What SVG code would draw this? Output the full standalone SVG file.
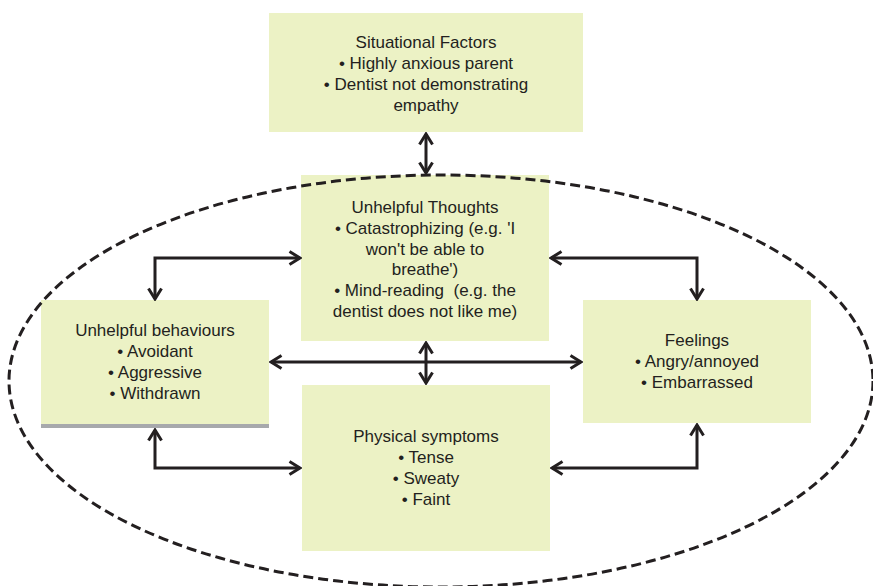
<svg xmlns="http://www.w3.org/2000/svg" width="873" height="586" viewBox="0 0 873 586">
<defs>
<style>
.box{fill:#ecf2c5;}
.t{font-family:"Liberation Sans",Arial,sans-serif;font-size:17px;fill:#231f20;text-anchor:middle;}
.c{fill:none;stroke:#231f20;stroke-width:3;marker-start:url(#ah);marker-end:url(#ah);}
</style>
<marker id="ah" viewBox="0 0 14 16" refX="12" refY="8" markerWidth="14" markerHeight="16" markerUnits="userSpaceOnUse" orient="auto-start-reverse">
<path d="M1.5,1.5 L12,8 L1.5,14.5" fill="none" stroke="#231f20" stroke-width="3" stroke-linejoin="miter"/>
</marker>
</defs>
<rect width="873" height="586" fill="#ffffff"/>
<g id="situational">
<rect class="box" x="269" y="13" width="314" height="119"/>
<text class="t" x="426" y="48">Situational Factors</text>
<text class="t" x="426" y="69">• Highly anxious parent</text>
<text class="t" x="426" y="90">• Dentist not demonstrating</text>
<text class="t" x="426" y="111">empathy</text>
</g>
<g id="thoughts">
<rect class="box" x="301" y="175" width="248" height="166"/>
<text class="t" x="425" y="213">Unhelpful Thoughts</text>
<text class="t" x="425" y="234">• Catastrophizing (e.g. 'I</text>
<text class="t" x="425" y="255">won't be able to</text>
<text class="t" x="425" y="275">breathe')</text>
<text class="t" x="425" y="296" xml:space="preserve">• Mind-reading  (e.g. the</text>
<text class="t" x="425" y="317">dentist does not like me)</text>
</g>
<g id="behaviours">
<rect class="box" x="41" y="300" width="228" height="124"/>
<rect x="41" y="424" width="228" height="4" fill="#a7a9ac"/>
<text class="t" x="155" y="336">Unhelpful behaviours</text>
<text class="t" x="155" y="357">• Avoidant</text>
<text class="t" x="155" y="378">• Aggressive</text>
<text class="t" x="155" y="399">• Withdrawn</text>
</g>
<g id="feelings">
<rect class="box" x="583" y="300" width="228" height="123"/>
<text class="t" x="697" y="346">Feelings</text>
<text class="t" x="697" y="367">• Angry/annoyed</text>
<text class="t" x="697" y="388">• Embarrassed</text>
</g>
<g id="physical">
<rect class="box" x="302" y="385" width="248" height="166"/>
<text class="t" x="426" y="442">Physical symptoms</text>
<text class="t" x="426" y="463">• Tense</text>
<text class="t" x="426" y="484">• Sweaty</text>
<text class="t" x="426" y="505">• Faint</text>
</g>
<g id="connectors">
<path class="c" d="M426,134 L426,173"/>
<path class="c" d="M155,299 L155,258 L300,258"/>
<path class="c" d="M155,430 L155,468 L300,468"/>
<path class="c" d="M697,299 L697,258 L551,258"/>
<path class="c" d="M697,425 L697,468 L552,468"/>
<path class="c" d="M271,362 L581,362"/>
<path class="c" d="M426,343 L426,383"/>
<ellipse cx="441" cy="381" rx="432" ry="206" fill="none" stroke="#231f20" stroke-width="3" stroke-dasharray="10 5"/>
</g>
</svg>
